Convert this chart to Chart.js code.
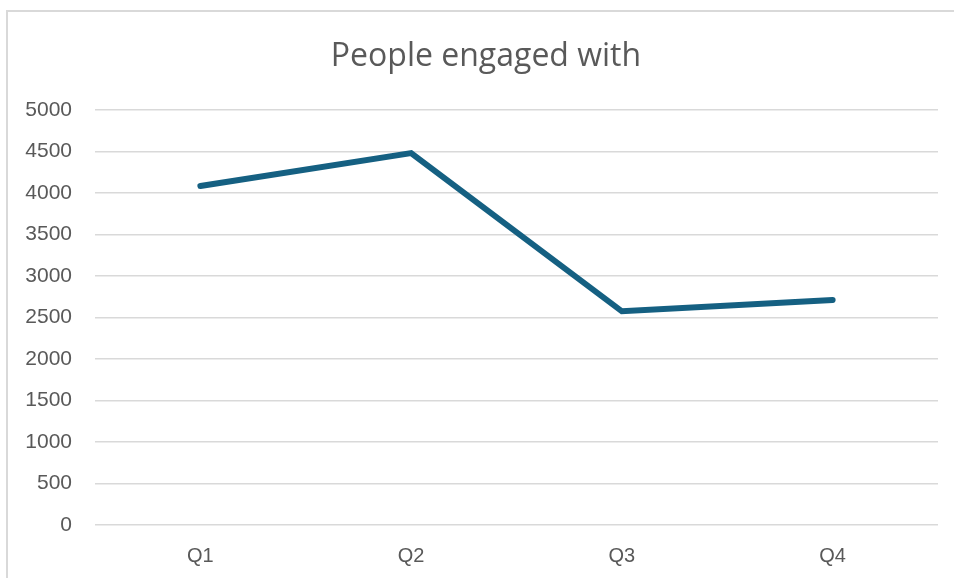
<!DOCTYPE html>
<html lang="en">
<head>
<meta charset="UTF-8">
<title>People engaged with</title>
<style>
  html, body {
    margin: 0;
    padding: 0;
    background: #fff;
    overflow: hidden;
  }
  .frame {
    position: absolute;
    left: 6px;
    top: 10px;
    width: 980px;
    height: 620px;
    border: 2px solid #d9d9d9;
  }
  .chart-box {
    position: absolute;
    left: 0;
    top: 0;
    width: 954px;
    height: 578px;
  }
</style>
</head>
<body>
<div class="frame"></div>
<div class="chart-box">
  <canvas id="engagedChart" width="954" height="578"></canvas>
</div>

<script src="https://cdn.jsdelivr.net/npm/chart.js"></script>
<script>
  // values
  const quarters = ['Q1', 'Q2', 'Q3', 'Q4'];
  const engaged = [4085, 4480, 2575, 2712];
  const yTicks = [0, 500, 1000, 1500, 2000, 2500, 3000, 3500, 4000, 4500, 5000];

  const textColor = '#595959';
  const gridColor = '#d9d9d9';

  // centre the title on the frame rather than on the canvas minus padding
  const titleShift = {
    id: 'titleShift',
    afterLayout(chart) {
      const t = chart.titleBlock;
      if (t) {
        t.left = 18;
        t.right = 954;
      }
    }
  };

  const engagedChart = new Chart(
    document.getElementById('engagedChart'),
    {
      type: 'line',
      data: {
        labels: quarters,
        datasets: [{
          label: 'People engaged with',
          data: engaged,
          borderColor: '#156082',
          borderWidth: 6,
          borderCapStyle: 'round',
          borderJoinStyle: 'miter',
          pointRadius: 0,
          tension: 0,
          fill: false
        }]
      },
      options: {
        responsive: false,
        animation: false,
        devicePixelRatio: 1,
        layout: {
          padding: { top: 20, right: 16, bottom: 0, left: 0 }
        },
        plugins: {
          legend: { display: false },
          tooltip: { enabled: false },
          title: {
            display: true,
            text: 'People engaged with',
            color: textColor,
            font: { family: 'Open Sans', size: 32, weight: 'normal' },
            padding: { top: 18, bottom: 33.6 }
          }
        },
        scales: {
          x: {
            offset: true,
            grid: { display: false },
            border: { display: false },
            ticks: {
              color: textColor,
              font: { family: 'Liberation Sans', size: 20 },
              padding: 11
            },
            afterFit: (scale) => { scale.height = 53; }
          },
          y: {
            min: 0,
            max: 5000,
            afterBuildTicks: (scale) => {
              scale.ticks = yTicks.map(v => ({ value: v }));
            },
            grid: {
              color: gridColor,
              lineWidth: 1.5,
              drawTicks: false
            },
            border: { display: false },
            ticks: {
              color: textColor,
              font: { family: 'Liberation Sans', size: 21 },
              padding: 23,
              callback: (value) => String(value)
            },
            afterFit: (scale) => { scale.width = 95; }
          }
        }
      },
      plugins: [titleShift]
    }
  );
</script>
</body>
</html>
